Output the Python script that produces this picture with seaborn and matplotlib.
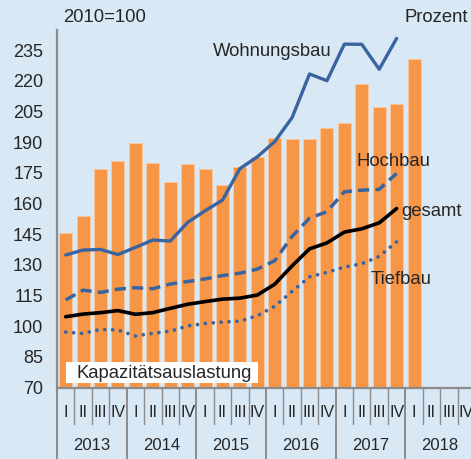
import numpy as np
import pandas as pd
import seaborn as sns
import matplotlib.pyplot as plt

# Data (quarters 2013 Q1 ... 2018 Q4)
years = ["2013", "2014", "2015", "2016", "2017", "2018"]
quarter_labels = ["I", "II", "III", "IV"]

auslastung = [145.5, 153.8, 176.8, 180.7, 189.7, 179.9, 170.5, 179.3, 176.8, 169.0,
              177.6, 182.5, 192.1, 191.3, 191.3, 197.0, 199.3, 218.4, 207.3, 208.8,
              230.6]
wohnungsbau = [134.8, 137.2, 137.5, 135.0, 138.5, 142.1, 141.6, 150.7, 156.4, 161.6,
               177.0, 182.8, 190.2, 202.0, 223.3, 220.0, 237.9, 237.8, 225.6, 240.7]
hochbau = [112.8, 117.6, 116.5, 118.1, 118.8, 118.3, 120.6, 121.8, 123.1, 124.7,
           125.9, 127.9, 132.0, 143.9, 152.8, 156.0, 165.7, 166.5, 166.9, 174.7]
gesamt = [104.6, 105.9, 106.6, 107.6, 105.8, 106.6, 108.7, 110.7, 112.0, 113.2,
          113.7, 115.2, 120.5, 129.5, 137.8, 140.7, 146.0, 147.6, 150.5, 157.5]
tiefbau = [97.1, 96.4, 98.4, 98.1, 95.2, 96.5, 97.5, 100.1, 101.3, 102.0,
           102.4, 105.1, 109.7, 117.0, 124.1, 126.3, 128.9, 130.5, 134.1, 141.2]

BG = "#d9e8f5"
ORANGE = "#f79646"
BLUE = "#3a64a0"
GRAY = "#8c8c8c"

sns.set_theme(style="white")
plt.rcParams["font.family"] = ["Liberation Sans", "DejaVu Sans"]

fig = plt.figure(figsize=(4.71, 4.59), dpi=100, facecolor=BG)
ax = fig.add_axes([57 / 471, 1 - 387.5 / 459, 418 / 471, (387.5 - 29.6) / 459])
ax.set_facecolor(BG)

bars = pd.DataFrame({"pos": np.arange(len(auslastung)), "wert": auslastung})
sns.barplot(data=bars, x="pos", y="wert", native_scale=True, color=ORANGE,
            saturation=1, width=0.75, edgecolor="#fbc89c", linewidth=0.6, ax=ax)

x_line = np.arange(len(gesamt))
sns.lineplot(x=x_line, y=wohnungsbau, color=BLUE, linewidth=2.4, ax=ax)
sns.lineplot(x=x_line, y=hochbau, color=BLUE, linewidth=2.5,
             linestyle=(0, (3.2, 1.8)), ax=ax)
sns.lineplot(x=x_line, y=gesamt, color="black", linewidth=2.6, ax=ax)
sns.lineplot(x=x_line, y=tiefbau, color=BLUE, linewidth=2.7,
             linestyle=(0, (0.01, 2.1)), dash_capstyle="round", ax=ax)

ax.set_xlim(-0.5, 23.5)
ax.set_ylim(70, 245)
ax.set_yticks(np.arange(70, 236, 15))
ax.tick_params(axis="y", direction="out", length=5, width=1.2, color=GRAY,
               labelsize=13, pad=5)
ax.set(xlabel=None, ylabel=None)
ax.set_xticks([])
ax.spines[["top", "right"]].set_visible(False)
for side in ["left", "bottom"]:
    ax.spines[side].set_color(GRAY)
    ax.spines[side].set_linewidth(1.6)

# quarter/year axis drawn below the plot
trans = ax.get_xaxis_transform()
px = 1 / ((387.5 - 29.6))
for i in range(25):
    low = -71.5 * px if i % 4 == 0 else -36 * px
    ax.plot([i - 0.5, i - 0.5], [0, low], transform=trans, color=GRAY,
            linewidth=1.4 if i % 4 == 0 else 1.0, clip_on=False)
for i in range(24):
    ax.text(i, -25 * px, quarter_labels[i % 4], transform=trans, ha="center",
            va="center", fontsize=11.5)
for j, yr in enumerate(years):
    ax.text(4 * j + 1.5, -58 * px, yr, transform=trans, ha="center",
            va="center", fontsize=12)

# annotations
fig.text(63 / 471, 1 - 18 / 459, "2010=100", fontsize=13.3, va="center")
fig.text(404 / 471, 1 - 18 / 459, "Prozent", fontsize=13.3, va="center")
fig.text(213 / 471, 1 - 52 / 459, "Wohnungsbau", fontsize=13.3, va="center")
fig.text(357 / 471, 1 - 161 / 459, "Hochbau", fontsize=13.3, va="center")
fig.text(401 / 471, 1 - 211 / 459, "gesamt", fontsize=13.3, va="center")
fig.text(371 / 471, 1 - 279 / 459, "Tiefbau", fontsize=13.3, va="center")
fig.patches.append(plt.Rectangle((66 / 471, 1 - 383 / 459), 192 / 471, 21 / 459,
                                 transform=fig.transFigure, facecolor="white",
                                 edgecolor="none", zorder=5))
fig.text(76 / 471, 1 - 373 / 459, "Kapazitätsauslastung", fontsize=13.3,
         va="center", zorder=6)

fig.savefig("out.png", dpi=100, facecolor=BG)
